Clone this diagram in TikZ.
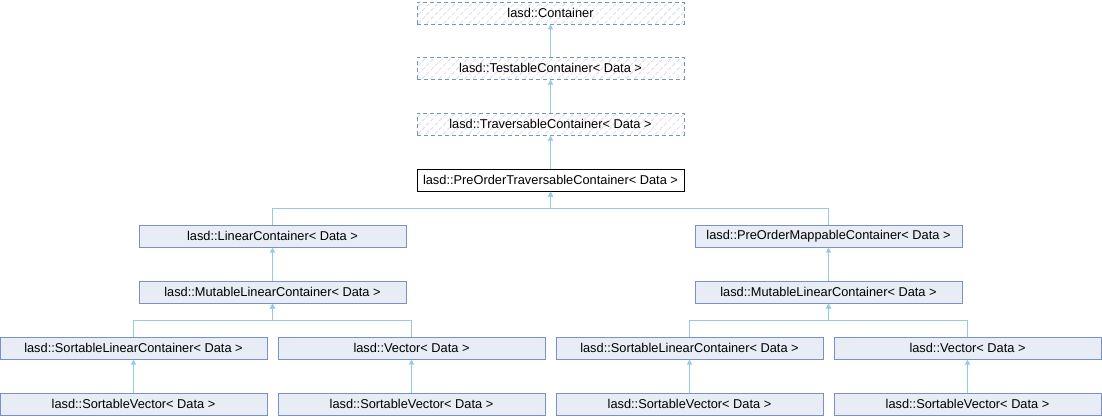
\documentclass[tikz,border=0pt]{standalone}
\usepackage{fontspec}
\setmainfont{Liberation Sans}
\usepackage{tikz}
\usetikzlibrary{arrows.meta,patterns.meta}

\definecolor{boxfill}{RGB}{232,236,245}
\definecolor{boxline}{RGB}{122,144,200}
\definecolor{hatchline}{RGB}{214,222,238}
\definecolor{inhline}{RGB}{150,202,232}

\begin{document}
\begin{tikzpicture}[x=1pt,y=-1pt,>={Triangle[width=5pt,length=5pt]},
	cls/.style={draw=boxline,fill=boxfill,line width=1pt,minimum width=267pt,minimum height=22pt,inner sep=0pt,font=\fontsize{12.8}{14}\selectfont},
	cur/.style={cls,draw=black,fill=white},
	undoc/.style={cls,fill=none,dash pattern=on 4pt off 3pt,preaction={fill=white},pattern={Lines[angle=45,distance=6pt,line width=0.8pt]},pattern color=hatchline},
	inh/.style={draw=inhline,fill=none,line width=1pt,->,>={Triangle[width=5pt,length=5pt]}}]
		\useasboundingbox (0,0) rectangle (1102,416);
		% The classes
		\node[undoc] (cont) at (550.5,13) {lasd::Container};
		\node[undoc] (test) at (550.5,68) {lasd::TestableContainer< Data >};
		\node[undoc] (trav) at (550.5,124) {lasd::TraversableContainer< Data >};
		\node[cur] (pre) at (550.5,180) {lasd::PreOrderTraversableContainer< Data >};
		
		\node[cls] (lin) at (272.5,236) {lasd::LinearContainer< Data >};
		\node[cls] (map) at (828.5,236) {lasd::PreOrderMappableContainer< Data >};
		\node[cls] (mutl) at (272.5,292) {lasd::MutableLinearContainer< Data >};
		\node[cls] (mutr) at (828.5,292) {lasd::MutableLinearContainer< Data >};
		
		\node[cls] (sortl) at (133.5,348) {lasd::SortableLinearContainer< Data >};
		\node[cls] (vecl) at (411.5,348) {lasd::Vector< Data >};
		\node[cls] (sortr) at (689.5,348) {lasd::SortableLinearContainer< Data >};
		\node[cls] (vecr) at (967.5,348) {lasd::Vector< Data >};
		
		\node[cls] (svsl) at (133.5,404) {lasd::SortableVector< Data >};
		\node[cls] (svvl) at (411.5,404) {lasd::SortableVector< Data >};
		\node[cls] (svsr) at (689.5,404) {lasd::SortableVector< Data >};
		\node[cls] (svvr) at (967.5,404) {lasd::SortableVector< Data >};
		
		% The buses
		\coordinate (busp) at (550.5,208);
		\coordinate (busl) at (272.5,320);
		\coordinate (busr) at (828.5,320);
		
		% The inheritance lines
		\draw[inh] (test) -- (cont);
		\draw[inh] (trav) -- (test);
		\draw[inh] (pre) -- (trav);
		\draw[inh] (lin.north) |- (busp) -| (pre.south);
		\draw[inh] (map.north) |- (busp) -| (pre.south);
		\draw[inh] (mutl) -- (lin);
		\draw[inh] (mutr) -- (map);
		\draw[inh] (sortl.north) |- (busl) -| (mutl.south);
		\draw[inh] (vecl.north) |- (busl) -| (mutl.south);
		\draw[inh] (sortr.north) |- (busr) -| (mutr.south);
		\draw[inh] (vecr.north) |- (busr) -| (mutr.south);
		\draw[inh] (svsl) -- (sortl);
		\draw[inh] (svvl) -- (vecl);
		\draw[inh] (svsr) -- (sortr);
		\draw[inh] (svvr) -- (vecr);
	\end{tikzpicture}
\end{document}
